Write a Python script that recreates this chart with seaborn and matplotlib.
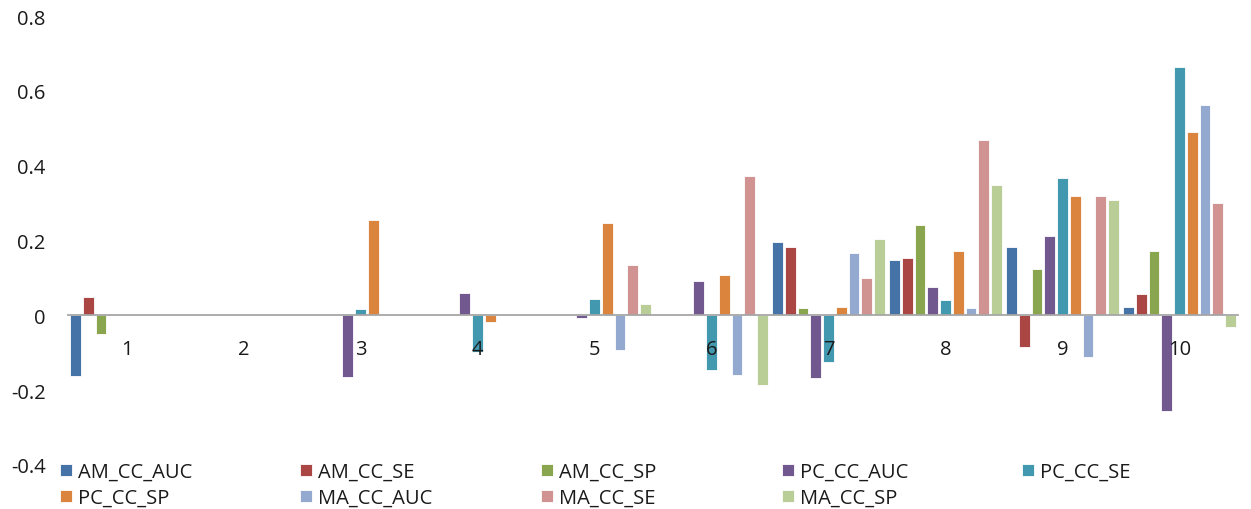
import numpy as np
import pandas as pd
import matplotlib
matplotlib.use("Agg")
import matplotlib.pyplot as plt
import seaborn as sns

# Group labels along the x axis
groups = ["1", "2", "3", "4", "5", "6", "7", "8", "9", "10"]

# Series names (legend order)
series = ["AM_CC_AUC", "AM_CC_SE", "AM_CC_SP",
          "PC_CC_AUC", "PC_CC_SE", "PC_CC_SP",
          "MA_CC_AUC", "MA_CC_SE", "MA_CC_SP"]

# Values per series, one per group
am_cc_auc = [-0.162, 0.0, 0.0, 0.0, 0.0, 0.0, 0.195, 0.149, 0.182, 0.022]
am_cc_se = [0.049, 0.0, 0.0, 0.0, 0.0, 0.0, 0.182, 0.153, -0.085, 0.058]
am_cc_sp = [-0.049, 0.0, 0.0, 0.0, 0.0, 0.0, 0.019, 0.242, 0.123, 0.173]
pc_cc_auc = [0.0, 0.0, -0.164, 0.060, -0.008, 0.091, -0.168, 0.076, 0.212, -0.257]
pc_cc_se = [0.0, 0.0, 0.016, -0.097, 0.043, -0.147, -0.125, 0.040, 0.367, 0.663]
pc_cc_sp = [0.0, 0.0, 0.254, -0.017, 0.247, 0.108, 0.022, 0.173, 0.319, 0.491]
ma_cc_auc = [0.0, 0.0, 0.0, 0.0, -0.093, -0.159, 0.167, 0.019, -0.111, 0.562]
ma_cc_se = [0.0, 0.0, 0.0, 0.0, 0.135, 0.372, 0.099, 0.468, 0.319, 0.300]
ma_cc_sp = [0.0, 0.0, 0.0, 0.0, 0.031, -0.186, 0.203, 0.348, 0.309, -0.031]

# Y axis tick values
y_ticks = [-0.4, -0.2, 0.0, 0.2, 0.4, 0.6, 0.8]
y_tick_labels = ["-0.4", "-0.2", "0", "0.2", "0.4", "0.6", "0.8"]

palette = ["#4572A7", "#AA4643", "#89A54E", "#71588F", "#4198AF",
           "#DB843D", "#93A9CF", "#D19392", "#B9CD96"]

values = [am_cc_auc, am_cc_se, am_cc_sp, pc_cc_auc, pc_cc_se,
          pc_cc_sp, ma_cc_auc, ma_cc_se, ma_cc_sp]
rows = []
for name, vals in zip(series, values):
    for g, v in zip(groups, vals):
        rows.append({"group": g, "series": name, "value": v})
df = pd.DataFrame(rows)

sns.set_style("white")
plt.rcParams["font.family"] = ["Open Sans", "DejaVu Sans"]

W, H = 1251, 510
fig = plt.figure(figsize=(W / 100, H / 100), dpi=100)
ax = fig.add_axes([68 / W, 1 - 466 / H, 1170 / W, 449 / H])

sns.barplot(data=df, x="group", y="value", hue="series", order=groups,
            hue_order=series, palette=palette, saturation=1,
            width=0.98, gap=0.17, errorbar=None,
            edgecolor="white", linewidth=0.6, ax=ax)

ax.set_ylim(-0.4, 0.8)
ax.set_xlim(-0.5, len(groups) - 0.5)
ax.set_yticks(y_ticks)
ax.set_yticklabels(y_tick_labels)
ax.set_xlabel("")
ax.set_ylabel("")

# Zero line doubles as the category axis; labels sit on top of the bars
ax.set_axisbelow(False)
for side in ["top", "right", "left"]:
    ax.spines[side].set_visible(False)
ax.spines["bottom"].set_position(("data", 0))
ax.spines["bottom"].set_color("#A6A6A6")
ax.spines["bottom"].set_linewidth(1.3)

text_color = "#1a1a1a"
ax.tick_params(axis="y", length=0, pad=16, labelsize=14.5, labelcolor=text_color)
ax.tick_params(axis="x", length=0, pad=17, labelsize=14.5, labelcolor=text_color)

# Legend: five evenly spaced columns, filled row by row
handles, labels = ax.get_legend_handles_labels()
ax.get_legend().remove()
ncols = 5
col_x = [60, 300, 541, 782, 1022]
for c in range(ncols):
    idx = [i for i in range(len(series)) if i % ncols == c]
    leg = fig.legend([handles[i] for i in idx], [labels[i] for i in idx],
                     ncol=1, loc="upper left",
                     bbox_to_anchor=(col_x[c] / W, 1 - 463 / H),
                     bbox_transform=fig.transFigure,
                     frameon=False, fontsize=14.5, borderpad=0, borderaxespad=0,
                     handlelength=0.6, handleheight=0.5, handletextpad=0.3,
                     labelspacing=0.3)
    for t in leg.get_texts():
        t.set_color(text_color)

fig.savefig("out.png", dpi=100)
